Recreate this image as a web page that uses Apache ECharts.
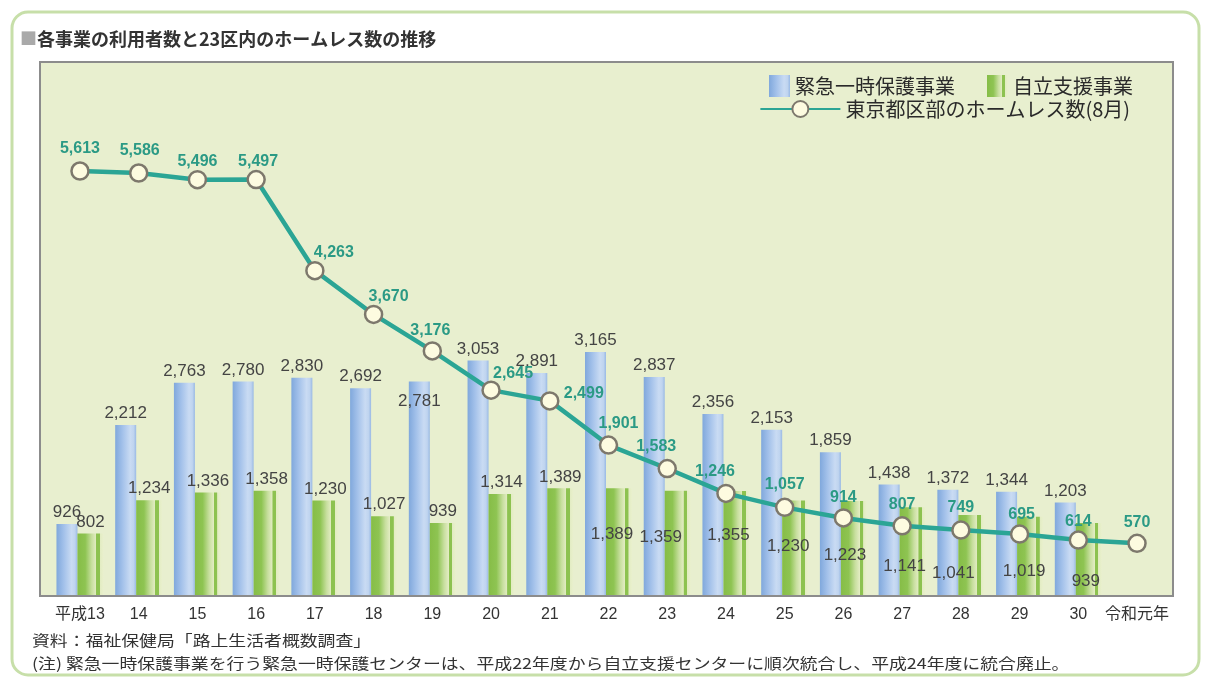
<!DOCTYPE html>
<html><head><meta charset="utf-8">
<script src="https://cdn.jsdelivr.net/npm/echarts@6/dist/echarts.min.js"></script>
<style>html,body{margin:0;padding:0;background:#fff}#c{width:1205px;height:679px}</style>
</head><body><div id="c"></div>
<script>
// ---- data ----
const categories = ['平成13','14','15','16','17','18','19','20','21','22','23','24','25','26','27','28','29','30','令和元年'];
const emergencyUsers = [926,2212,2763,2780,2830,2692,2781,3053,2891,3165,2837,2356,2153,1859,1438,1372,1344,1203,null];
const independenceUsers = [802,1234,1336,1358,1230,1027,939,1314,1389,1389,1359,1355,1230,1223,1141,1041,1019,939,null];
const homelessCount = [5613,5586,5496,5497,4263,3670,3176,2645,2499,1901,1583,1246,1057,914,807,749,695,614,570];
const seriesNames = ['緊急一時保護事業','自立支援事業','東京都区部のホームレス数(8月)'];
const titleText = '各事業の利用者数と23区内のホームレス数の推移';
const sourceNote = '資料：福祉保健局「路上生活者概数調査」';
const footNote = '(注) 緊急一時保護事業を行う緊急一時保護センターは、平成22年度から自立支援センターに順次統合し、平成24年度に統合廃止。';

// ---- label placement (style only) ----
const blueInside = {6:[0,8]};
const greenInside = {9:[-7,34],10:[-17,35],11:[-8,33],12:[-7,34],13:[-9,43],14:[-8,47],15:[-18,47],16:[-6,43],17:[-3,47]};
const lineShift = {1:[1,0],2:[0,5],3:[2,5],4:[19,5],5:[15,5],6:[-2,2],7:[22,6],8:[34,15],9:[10,1],10:[-11,1],11:[-11,1],13:[0,2],14:[0,2],16:[2,3],17:[0,4],18:[0,2]};

const FONT = "'Liberation Sans','Noto Sans CJK JP',sans-serif";
const CJK = "'Noto Sans CJK JP',sans-serif";
const fmt = v => v.value == null ? '' : v.value.toLocaleString('en-US');

const blueGrad = {type:'linear',x:0,y:0,x2:1,y2:0,colorStops:[
  {offset:0,color:'#80a8dc'},{offset:0.35,color:'#a3c1ea'},{offset:0.72,color:'#c9dbf3'},
  {offset:0.88,color:'#bfd4ef'},{offset:1,color:'#99b9e4'}]};
const greenGrad = {type:'linear',x:0,y:0,x2:1,y2:0,colorStops:[
  {offset:0,color:'#86bd47'},{offset:0.3,color:'#8ec452'},{offset:0.55,color:'#c8df9f'},
  {offset:0.72,color:'#e2ecc2'},{offset:0.73,color:'#8dc250'},{offset:0.86,color:'#8dc250'},
  {offset:0.87,color:'#e2ecc2'},{offset:1,color:'#e9f0cd'}]};

const blueData = emergencyUsers.map((v,i)=> blueInside[i]
  ? {value:v,label:{position:'insideTop',offset:blueInside[i]}} : v);
const greenData = independenceUsers.map((v,i)=> greenInside[i]
  ? {value:v,label:{position:'insideTop',offset:greenInside[i]}} : v);
const lineData = homelessCount.map((v,i)=> lineShift[i]
  ? {value:v,label:{offset:lineShift[i]}} : v);

const chart = echarts.init(document.getElementById('c'));
chart.setOption({
  backgroundColor:'#ffffff',
  animation:false,
  graphic:[
    {type:'rect',z:-10,shape:{x:12,y:12,width:1187,height:663,r:16},style:{fill:'#ffffff',stroke:'#c7dfa9',lineWidth:3}},
    {type:'rect',z:-9,shape:{x:40,y:62,width:1133,height:534},style:{fill:'#e8efcf',stroke:'#8c8c8c',lineWidth:2}},
    {type:'text',x:20,y:39,style:{text:'{sq|■}{t|'+titleText+'}',textVerticalAlign:'middle',
      rich:{sq:{fill:'#a9a9a9',fontSize:17,fontFamily:CJK},t:{fill:'#333',fontSize:18,fontWeight:'bold',fontFamily:CJK}}}},
    {type:'text',x:32,y:640,scaleX:1.19,style:{text:sourceNote,fill:'#333',fontSize:15,fontFamily:CJK,textVerticalAlign:'middle'}},
    {type:'text',x:32,y:663,scaleX:1.19,style:{text:footNote,fill:'#333',fontSize:15,fontFamily:CJK,textVerticalAlign:'middle'}}
  ],
  legend:[
    {data:[seriesNames[0],seriesNames[1]],right:67,top:70,itemWidth:21,itemHeight:22,itemGap:32,icon:'rect',
      textStyle:{fontSize:20,color:'#2a2a2a',fontFamily:CJK}},
    {data:[seriesNames[2]],right:70,top:94,itemWidth:80,itemHeight:20,
      textStyle:{fontSize:20,color:'#2a2a2a',fontFamily:CJK}}
  ],
  grid:{left:50.6,right:38.6,top:63,bottom:84},
  xAxis:{type:'category',data:categories,boundaryGap:true,
    axisLine:{show:false},axisTick:{show:false},splitLine:{show:false},
    axisLabel:{interval:0,margin:12,color:'#333',fontSize:16,fontFamily:FONT}},
  yAxis:[
    {type:'value',min:0,max:6927,show:false,splitLine:{show:false}},
    {type:'value',min:-130,max:7076,show:false,splitLine:{show:false}}
  ],
  series:[
    {name:seriesNames[0],type:'bar',yAxisIndex:0,barWidth:21,barGap:'0%',data:blueData,
      itemStyle:{color:blueGrad},
      label:{show:true,position:'top',distance:3,color:'#444',fontSize:17,fontFamily:FONT,formatter:fmt}},
    {name:seriesNames[1],type:'bar',yAxisIndex:0,barWidth:26,barGap:'0%',data:greenData,
      itemStyle:{color:greenGrad},
      label:{show:true,position:'top',distance:3,color:'#444',fontSize:17,fontFamily:FONT,formatter:fmt}},
    {name:seriesNames[2],type:'line',yAxisIndex:1,data:lineData,z:5,
      symbol:'circle',symbolSize:17,
      lineStyle:{color:'#2ba595',width:4.5},
      itemStyle:{color:'#fdfbe0',borderColor:'#7d786c',borderWidth:2.5},
      label:{show:true,position:'top',distance:5,color:'#2b9a85',fontWeight:'bold',fontSize:16,fontFamily:FONT,formatter:fmt}}
  ]
});
</script></body></html>
